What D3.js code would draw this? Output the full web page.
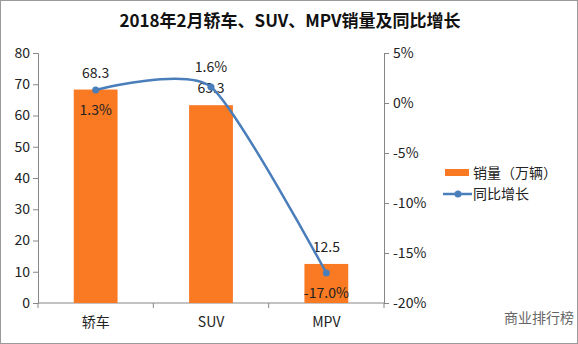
<!DOCTYPE html>
<html><head><meta charset="utf-8">
<script src="https://cdn.jsdelivr.net/npm/d3@7"></script>
<style>
html,body{margin:0;padding:0;background:#fff;}
svg{display:block;}
text{font-family:"Microsoft YaHei","Noto Sans CJK SC","Noto Sans",sans-serif;}
</style></head>
<body>
<script>
const categories = ["轿车", "SUV", "MPV"];
const sales = [68.3, 63.3, 12.5];
const growth = [1.3, 1.6, -17.0];
const leftTicks = [0, 10, 20, 30, 40, 50, 60, 70, 80];
const rightTicks = [5, 0, -5, -10, -15, -20];
const title = "2018年2月轿车、SUV、MPV销量及同比增长";
const legendLabels = ["销量（万辆）", "同比增长"];

const W = 578, H = 344;
const svg = d3.select("body").append("svg").attr("width", W).attr("height", H);
svg.append("rect").attr("x", 0.5).attr("y", 0.5).attr("width", W - 1).attr("height", H - 1)
  .attr("fill", "#fff").attr("stroke", "#9a9a9a");

const x0 = 38, x1 = 384, yTop = 53, yBot = 303;
const x = d3.scaleBand().domain(categories).range([x0, x1]).paddingInner(0.62).paddingOuter(0.31);
const yL = d3.scaleLinear().domain([0, 80]).range([yBot, yTop]);
const yR = d3.scaleLinear().domain([-20, 5]).range([yBot, yTop]);
const axisColor = "#868686";
const orange = "#F97A23";
const blue = "#4A7EBB";

svg.append("text").attr("x", 290).attr("y", 27).attr("text-anchor", "middle")
  .attr("font-size", 17).attr("font-weight", "bold").attr("fill", "#111").text(title);

// left axis
const gL = svg.append("g").attr("transform", `translate(${x0},0)`)
  .call(d3.axisLeft(yL).tickValues(leftTicks).tickSize(5).tickPadding(3));
// right axis
const gR = svg.append("g").attr("transform", `translate(${x1},0)`)
  .call(d3.axisRight(yR).tickValues(rightTicks).tickSize(5).tickPadding(4).tickFormat(d => d + "%"));
[gL, gR].forEach(g => {
  g.select(".domain").attr("stroke", axisColor);
  g.selectAll(".tick line").attr("stroke", axisColor);
  g.selectAll(".tick text").attr("font-size", 14).attr("fill", "#222")
    .style("font-family", '"Microsoft YaHei","Noto Sans CJK SC",sans-serif');
});

// x axis
const gX = svg.append("g").attr("transform", `translate(0,${yBot})`);
gX.append("line").attr("x1", x0).attr("x2", x1).attr("stroke", axisColor);
const bounds = d3.range(categories.length + 1).map(i => x0 + i * (x1 - x0) / categories.length);
gX.selectAll("line.t").data(bounds).join("line").attr("class", "t")
  .attr("x1", d => d).attr("x2", d => d).attr("y1", 0).attr("y2", 5).attr("stroke", axisColor);
gX.selectAll("text").data(categories).join("text")
  .attr("x", d => x(d) + x.bandwidth() / 2).attr("y", 24).attr("text-anchor", "middle")
  .attr("font-size", 14).attr("fill", "#222").text(d => d);

// bars
svg.selectAll("rect.bar").data(sales).join("rect").attr("class", "bar")
  .attr("x", (d, i) => x(categories[i])).attr("width", x.bandwidth())
  .attr("y", d => yL(d)).attr("height", d => yBot - yL(d)).attr("fill", orange);

// bar labels
svg.selectAll("text.bl").data(sales).join("text").attr("class", "bl")
  .attr("x", (d, i) => x(categories[i]) + x.bandwidth() / 2).attr("y", d => yL(d) - 12)
  .attr("text-anchor", "middle").attr("font-size", 14).attr("fill", "#222").text(d => d.toFixed(1));

// line
const cx = (i) => x(categories[i]) + x.bandwidth() / 2;
const line = d3.line().x((d, i) => cx(i)).y(d => yR(d)).curve(d3.curveCardinal.tension(0.35));
svg.append("path").datum(growth).attr("d", line).attr("fill", "none")
  .attr("stroke", blue).attr("stroke-width", 2.5);
svg.selectAll("circle.pt").data(growth).join("circle").attr("class", "pt")
  .attr("cx", (d, i) => cx(i)).attr("cy", d => yR(d)).attr("r", 3.5).attr("fill", blue);

// line labels
const lblOff = [1, -1, 1];
svg.selectAll("text.ll").data(growth).join("text").attr("class", "ll")
  .attr("x", (d, i) => cx(i)).attr("y", (d, i) => yR(d) + (lblOff[i] > 0 ? 25 : -15))
  .attr("text-anchor", "middle").attr("font-size", 14).attr("fill", "#222")
  .text(d => d.toFixed(1) + "%");

// legend
const lg = svg.append("g");
lg.append("rect").attr("x", 445).attr("y", 169).attr("width", 24).attr("height", 7).attr("fill", orange);
lg.append("text").attr("x", 473).attr("y", 178).attr("font-size", 14).attr("fill", "#222").text(legendLabels[0]);
lg.append("line").attr("x1", 443).attr("x2", 472).attr("y1", 194).attr("y2", 194).attr("stroke", blue).attr("stroke-width", 2.5);
lg.append("circle").attr("cx", 458).attr("cy", 194).attr("r", 3.5).attr("fill", blue);
lg.append("text").attr("x", 473).attr("y", 199).attr("font-size", 14).attr("fill", "#222").text(legendLabels[1]);

// watermark-like credit
svg.append("text").attr("x", 574).attr("y", 323).attr("text-anchor", "end")
  .attr("font-size", 14).attr("fill", "#666").text("商业排行榜");
</script>
</body></html>
